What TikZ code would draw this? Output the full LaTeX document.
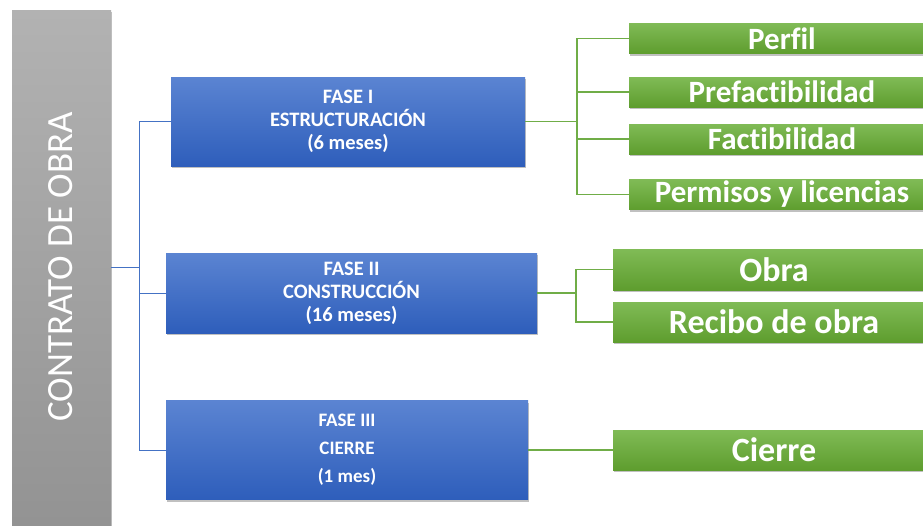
\documentclass[tikz,border=0pt]{standalone}
\usepackage{fontspec}
\setmainfont{Carlito}[Ligatures=NoCommon]
\usetikzlibrary{shadows}
\definecolor{grayT}{HTML}{B2B2B2}
\definecolor{grayB}{HTML}{939393}
\definecolor{blueT}{HTML}{5B84D2}
\definecolor{blueB}{HTML}{2E5EBB}
\definecolor{greenT}{HTML}{80BB56}
\definecolor{greenB}{HTML}{5E9D2E}
\definecolor{bline}{HTML}{4472C4}
\definecolor{gline}{HTML}{70AD47}
\tikzset{
  shad/.style={drop shadow={shadow xshift=1.2pt, shadow yshift=-2pt, opacity=.35, fill=black!70}},
  graybox/.style={rectangle, top color=grayT, bottom color=grayB, inner sep=0, shad},
  phase/.style={rectangle, top color=blueT, bottom color=blueB, text=white, align=center,
    inner sep=0, font=\bfseries\fontsize{20.5}{23}\selectfont, shad},
  itemA/.style={rectangle, top color=greenT, bottom color=greenB, text=white, inner sep=0,
    minimum width=306pt, font=\bfseries\fontsize{31}{33}\selectfont, shad},
  itemB/.style={itemA, font=\bfseries\fontsize{34}{36}\selectfont},
  bconn/.style={draw=bline, line width=1pt},
  gconn/.style={draw=gline, line width=1.3pt},
}
\begin{document}
\begin{tikzpicture}[x=1pt,y=-1pt]
\useasboundingbox (0,0) rectangle (923,525);
\fill[white] (0,0) rectangle (923,525);
% gray
\node[graybox, minimum width=99pt, minimum height=515pt] (gray) at (61.5,267.5) {};
\node[rotate=90, anchor=base, text=white, font=\fontsize{37}{40}\selectfont] (gtxt) at (72,267) {CONTRATO DE OBRA};
% phases
\node[phase, minimum width=354pt, minimum height=89pt] (f1) at (348,121.5) {FASE I\\ESTRUCTURACIÓN\\(6 meses)};
\node[phase, minimum width=371pt, minimum height=80pt] (f2) at (351.5,293) {FASE II\\CONSTRUCCIÓN\\(16 meses)};
\node[phase, minimum width=362pt, minimum height=99pt, font=\bfseries\fontsize{19}{28}\selectfont] (f3) at (347,450) {\raisebox{-2pt}{\parbox{100pt}{\centering FASE III\\CIERRE\\(1 mes)}}};
% items
\node[itemA, minimum height=30pt] (perfil) at (782,38.5) {Perfil};
\node[itemA, minimum height=30pt] (pref) at (782,92) {Prefactibilidad};
\node[itemA, minimum height=30pt] (fact) at (782,139) {Factibilidad};
\node[itemA, minimum height=30pt] (perm) at (782,194.5) {Permisos y licencias};
\node[itemB, minimum width=322pt, minimum height=41pt] (obra) at (774,269.5) {Obra};
\node[itemB, minimum width=322pt, minimum height=40pt] (recibo) at (774,322) {Recibo de obra};
\node[itemB, minimum width=322pt, minimum height=40pt] (cierre) at (774,450) {Cierre};
% blue connectors
\coordinate (bj) at (139,267.5);
\draw[bconn] (gray.east) -- (bj);
\draw[bconn] (bj) |- (f1.west);
\draw[bconn] (bj) |- (f2.west);
\draw[bconn] (bj) |- (f3.west);
% green connectors
\coordinate (gj1) at (577,121.5);
\draw[gconn] (f1.east) -- (gj1);
\draw[gconn] (gj1) |- (perfil.west);
\draw[gconn] (gj1) |- (pref.west);
\draw[gconn] (gj1) |- (fact.west);
\draw[gconn] (gj1) |- (perm.west);
\coordinate (gj2) at (576,293);
\draw[gconn] (f2.east) -- (gj2);
\draw[gconn] (gj2) |- (obra.west);
\draw[gconn] (gj2) |- (recibo.west);
\draw[gconn] (f3.east) -- (cierre.west);
\end{tikzpicture}
\end{document}
